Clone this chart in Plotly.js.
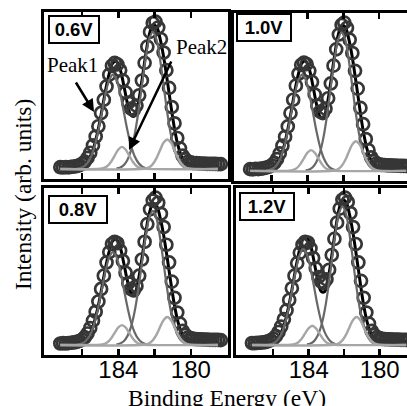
<!DOCTYPE html>
<html>
<head>
<meta charset="utf-8">
<script src="https://cdn.plot.ly/plotly-3.0.1.min.js"></script>
<style>
html,body{margin:0;padding:0;overflow:hidden;background:#fff;}
#chart{width:416px;height:412px;}
</style>
</head>
<body>
<div id="chart"></div>
<script>
// ---- Data ----
const panelLabels = ['0.6V', '1.0V', '0.8V', '1.2V'];

const energy = [187.2,187.05,186.9,186.75,186.6,186.45,186.3,186.15,186.0,185.85,
  185.7,185.55,185.4,185.25,185.1,184.95,184.8,184.65,184.5,184.35,
  184.2,184.05,183.9,183.75,183.6,183.45,183.3,183.15,183.0,182.85,
  182.7,182.55,182.4,182.25,182.1,181.95,181.8,181.65,181.5,181.35,
  181.2,181.05,180.9,180.75,180.6,180.45,180.3,180.15,180.0,179.85,
  179.7,179.55,179.4,179.25,179.1,178.95,178.8,178.65,178.5,178.35];

const data06 = [.012,.01,.013,.011,.014,.016,.02,.025,.035,.05,
  .075,.11,.16,.22,.29,.38,.47,.56,.64,.70,
  .72,.71,.67,.6,.52,.45,.41,.40,.43,.5,
  .6,.72,.83,.93,.99,1.0,.96,.88,.79,.67,
  .55,.42,.31,.21,.14,.09,.065,.05,.045,.04,
  .04,.038,.037,.036,.035,.035,.034,.034,.033,.033];
const data08 = [.01,.012,.01,.013,.015,.017,.021,.027,.036,.052,
  .078,.115,.165,.225,.295,.38,.47,.56,.63,.685,
  .70,.69,.64,.57,.49,.42,.38,.37,.40,.47,
  .58,.70,.82,.92,.98,1.0,.965,.89,.8,.68,
  .56,.43,.32,.22,.145,.095,.068,.052,.046,.042,
  .04,.039,.038,.037,.036,.035,.035,.034,.034,.033];
const data10 = [.012,.011,.014,.012,.015,.018,.022,.028,.038,.054,
  .08,.118,.17,.23,.30,.39,.48,.575,.655,.715,
  .73,.72,.675,.6,.515,.44,.40,.39,.42,.49,
  .59,.71,.82,.92,.985,1.0,.965,.885,.795,.675,
  .555,.425,.315,.215,.14,.092,.066,.051,.045,.041,
  .04,.038,.037,.036,.036,.035,.034,.034,.033,.033];
const data12 = [.013,.012,.014,.015,.017,.02,.025,.032,.043,.06,
  .088,.125,.175,.235,.305,.385,.47,.555,.625,.68,
  .70,.695,.655,.59,.52,.46,.43,.42,.445,.51,
  .61,.72,.83,.925,.985,1.0,.97,.895,.80,.685,
  .56,.435,.32,.22,.145,.095,.068,.053,.046,.042,
  .04,.039,.038,.037,.036,.036,.035,.035,.034,.034];

const fitEnergy = [187.2,186.9,186.7,186.5,186.3,186.1,185.9,185.7,185.5,185.3,185.1,184.9,184.7,184.5,184.3,184.1,183.9,183.7,183.5,183.3,183.1,182.9,182.7,182.5,182.3,182.1,181.9,181.7,181.5,181.3,181.1,180.9,180.7,180.5,180.3,180.1,179.9,179.7,178.5];
const fit06 = [.01,.01,.01,.012,.014,.018,.029,.053,.097,.17,.275,.402,.536,.648,.72,.73,.677,.568,.446,.363,.36,.447,.598,.766,.906,.975,.966,.886,.76,.6,.43,.273,.155,.082,.046,.032,.028,.027,.025];
const fit08 = [.01,.01,.01,.012,.014,.018,.028,.052,.095,.167,.27,.395,.527,.637,.708,.717,.664,.556,.436,.354,.35,.437,.585,.75,.887,.955,.946,.868,.745,.588,.42,.267,.152,.08,.045,.032,.028,.027,.025];
const fit10 = [.01,.01,.01,.012,.014,.018,.029,.054,.098,.172,.279,.408,.544,.657,.73,.74,.686,.575,.451,.367,.363,.451,.602,.77,.91,.98,.971,.89,.764,.603,.432,.274,.156,.083,.046,.032,.028,.027,.025];
const fit12 = [.011,.011,.011,.013,.015,.019,.03,.055,.099,.172,.278,.405,.54,.652,.724,.732,.678,.567,.445,.364,.362,.452,.604,.773,.913,.982,.97,.886,.758,.596,.427,.27,.154,.082,.046,.032,.028,.027,.025];

// Peak1 main component (medium grey)
const peakAEnergy = [186.3,186.1,185.9,185.7,185.5,185.3,185.1,184.9,184.7,184.5,184.3,184.1,183.9,183.7,183.5,183.3,183.1,182.9,182.7,182.5,182.3];
const peakA06 = [.003,.007,.018,.042,.086,.159,.263,.388,.513,.605,.64,.605,.513,.388,.263,.159,.086,.042,.018,.007,.003];
const peakA08 = [.003,.007,.018,.041,.085,.156,.259,.382,.505,.596,.63,.596,.505,.382,.259,.156,.085,.041,.018,.007,.003];
const peakA10 = [.003,.007,.018,.043,.087,.162,.267,.395,.521,.615,.65,.615,.521,.395,.267,.162,.087,.043,.018,.007,.003];
const peakA12 = [.003,.007,.018,.043,.087,.162,.267,.395,.521,.615,.65,.615,.521,.395,.267,.162,.087,.043,.018,.007,.003];

// Peak2 component (light grey)
const peakBEnergy = [187.2,185.0,184.8,184.6,184.4,184.2,184.0,183.8,183.6,183.4,183.2,183.0,182.8,182.6,178.5];
const peakB06 = [0,.002,.007,.020,.049,.091,.132,.15,.132,.091,.049,.020,.007,.002,0];
const peakB08 = [0,.002,.006,.018,.044,.082,.119,.135,.119,.082,.044,.018,.006,.002,0];
const peakB10 = [0,.002,.007,.019,.046,.085,.123,.14,.123,.085,.046,.019,.007,.002,0];
const peakB12 = [0,.002,.006,.017,.042,.079,.114,.13,.114,.079,.042,.017,.006,.002,0];

// Second main component (medium grey)
const peakCEnergy = [184.1,183.9,183.7,183.5,183.3,183.1,182.9,182.7,182.5,182.3,182.1,181.9,181.7,181.5,181.3,181.1,180.9,180.7,180.5,180.3,180.1];
const peakC06 = [.004,.010,.026,.061,.126,.232,.382,.565,.745,.880,.93,.880,.745,.565,.382,.232,.126,.061,.026,.010,.004];
const peakC08 = [.004,.010,.025,.060,.123,.227,.374,.553,.729,.861,.91,.861,.729,.553,.374,.227,.123,.060,.025,.010,.004];
const peakC10 = [.004,.010,.026,.062,.126,.233,.384,.568,.749,.885,.935,.885,.749,.568,.384,.233,.126,.062,.026,.010,.004];
const peakC12 = [.004,.010,.026,.062,.127,.234,.386,.571,.753,.889,.94,.889,.753,.571,.386,.234,.127,.062,.026,.010,.004];

// Second small component (light grey)
const peakDEnergy = [187.2,182.5,182.3,182.1,181.9,181.7,181.5,181.3,181.1,180.9,180.7,180.5,180.3,180.1,178.5];
const peakD06 = [0,.003,.012,.033,.072,.127,.179,.2,.179,.127,.072,.033,.012,.003,0];
const peakD08 = [0,.003,.011,.031,.068,.121,.170,.19,.170,.121,.068,.031,.011,.003,0];
const peakD10 = [0,.003,.012,.033,.072,.127,.179,.2,.179,.127,.072,.033,.012,.003,0];
const peakD12 = [0,.003,.011,.031,.068,.121,.170,.19,.170,.121,.068,.031,.011,.003,0];

const tickValues = [186, 184, 182, 180];
const tickLabels = ['', '184', '', '180'];

// ---- Build ----
const W = 416, H = 412;
const panels = [
  {data: data06, fit: fit06, A: peakA06, B: peakB06, C: peakC06, D: peakD06},
  {data: data10, fit: fit10, A: peakA10, B: peakB10, C: peakC10, D: peakD10},
  {data: data08, fit: fit08, A: peakA08, B: peakB08, C: peakC08, D: peakD08},
  {data: data12, fit: fit12, A: peakA12, B: peakB12, C: peakC12, D: peakD12}
];
const xDom = [[44/W, 228/W], [234/W, 1], [44/W, 228/W], [236/W, 1]];
const yDom = [[1-179/H, 1-12/H], [1-181/H, 1-13/H], [1-355/H, 1-188/H], [1-355/H, 1-188/H]];

const traces = [];
const layout = {
  width: W, height: H,
  margin: {l: 0, r: 0, t: 0, b: 0},
  paper_bgcolor: '#fff', plot_bgcolor: 'rgba(0,0,0,0)',
  showlegend: false,
  annotations: [], shapes: []
};
const mainGrey = '#686868', lightGrey = '#a6a6a6';
panels.forEach((p, i) => {
  const n = i + 1;
  const xa = 'x' + (n === 1 ? '' : n), ya = 'y' + (n === 1 ? '' : n);
  traces.push({x: fitEnergy, y: p.fit, xaxis: xa, yaxis: ya, mode: 'lines',
    line: {color: '#000', width: 3, shape: 'spline'}});
  traces.push({x: energy, y: p.data, xaxis: xa, yaxis: ya, mode: 'markers',
    marker: {symbol: 'circle-open', size: 12, color: '#363636', line: {width: 2.7, color: '#363636'}}});
  traces.push({x: peakAEnergy, y: p.A, xaxis: xa, yaxis: ya, mode: 'lines',
    line: {color: mainGrey, width: 2.2, shape: 'spline'}});
  traces.push({x: peakCEnergy, y: p.C, xaxis: xa, yaxis: ya, mode: 'lines',
    line: {color: mainGrey, width: 2.2, shape: 'spline'}});
  traces.push({x: peakBEnergy, y: p.B, xaxis: xa, yaxis: ya, mode: 'lines',
    line: {color: lightGrey, width: 2.4, shape: 'spline'}});
  traces.push({x: peakDEnergy, y: p.D, xaxis: xa, yaxis: ya, mode: 'lines',
    line: {color: lightGrey, width: 2.4, shape: 'spline'}});
  const bottom = i >= 2;
  layout['xaxis' + (n === 1 ? '' : n)] = {
    domain: xDom[i], anchor: ya, range: [188.1, 177.95],
    tickmode: 'array', tickvals: tickValues, ticktext: tickLabels,
    showticklabels: bottom, ticks: 'inside', ticklen: 6, tickwidth: 2.5, tickcolor: '#000',
    ticklabelstandoff: -9,
    showline: true, linewidth: 3, linecolor: '#000', mirror: 'ticks',
    showgrid: false, zeroline: false,
    tickfont: {family: '"Liberation Sans Narrow", "Arial Narrow", "Liberation Sans", Arial, sans-serif', size: 24, color: '#000'}
  };
  layout['yaxis' + (n === 1 ? '' : n)] = {
    domain: yDom[i], anchor: xa, range: [-0.068, 1.065],
    showticklabels: false, ticks: '', showline: true, linewidth: 3, linecolor: '#000', mirror: true,
    showgrid: false, zeroline: false
  };
});

// panel labels in boxes
const boxes = [
  {t: panelLabels[0], x: 74, y: 30, w: 44},
  {t: panelLabels[1], x: 264, y: 28, w: 48},
  {t: panelLabels[2], x: 78, y: 209, w: 52},
  {t: panelLabels[3], x: 267, y: 206, w: 48}
];
boxes.forEach(b => layout.annotations.push({
  xref: 'paper', yref: 'paper', x: b.x / W, y: 1 - b.y / H, xanchor: 'center', yanchor: 'middle',
  text: '<b>' + b.t + '</b>', showarrow: false, width: b.w, height: 21, borderpad: 2,
  bordercolor: '#000', borderwidth: 2, bgcolor: '#fff',
  font: {family: '"Liberation Sans", Arial, sans-serif', size: 18.5, color: '#000'}
}));

const serif = '"Liberation Serif", "Times New Roman", serif';
layout.annotations.push({xref: 'paper', yref: 'paper', x: 72 / W, y: 1 - 65 / H, xanchor: 'center', yanchor: 'middle',
  text: 'Peak1', showarrow: false, font: {family: serif, size: 21, color: '#000'}});
layout.annotations.push({xref: 'paper', yref: 'paper', x: 201 / W, y: 1 - 47 / H, xanchor: 'center', yanchor: 'middle',
  text: 'Peak2', showarrow: false, font: {family: serif, size: 21, color: '#000'}});
// arrows
layout.annotations.push({xref: 'paper', yref: 'paper', x: 94 / W, y: 1 - 112 / H, ax: -19, ay: -31,
  text: '', showarrow: true, arrowhead: 2, arrowsize: 1, arrowwidth: 2.5, arrowcolor: '#000', standoff: 0});
layout.annotations.push({xref: 'paper', yref: 'paper', x: 129 / W, y: 1 - 150 / H, ax: 43, ay: -90,
  text: '', showarrow: true, arrowhead: 2, arrowsize: 1, arrowwidth: 2.5, arrowcolor: '#000', standoff: 0});

// axis titles
layout.annotations.push({xref: 'paper', yref: 'paper', x: 227 / W, y: 1 - 398 / H, xanchor: 'center', yanchor: 'middle',
  text: 'Binding Energy (eV)', showarrow: false, font: {family: serif, size: 23.5, color: '#000'}});
layout.annotations.push({xref: 'paper', yref: 'paper', x: 23 / W, y: 1 - 195 / H, xanchor: 'center', yanchor: 'middle',
  text: 'Intensity (arb. units)', textangle: -90, showarrow: false, font: {family: serif, size: 23.5, color: '#000'}});

Plotly.newPlot('chart', traces, layout, {staticPlot: true, displayModeBar: false});
</script>
</body>
</html>
